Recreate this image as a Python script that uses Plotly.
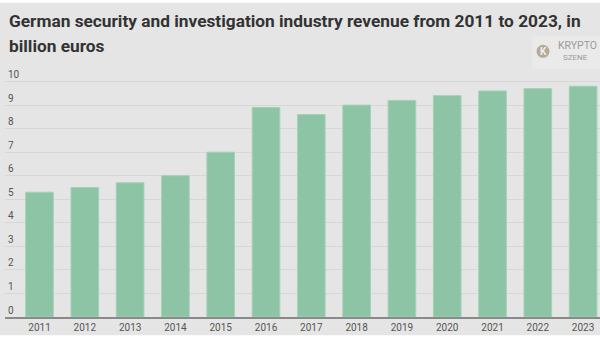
import plotly.graph_objects as go

years = ["2011", "2012", "2013", "2014", "2015", "2016", "2017",
         "2018", "2019", "2020", "2021", "2022", "2023"]
revenue = [5.3, 5.5, 5.7, 6.0, 7.0, 8.9, 8.6, 9.0, 9.2, 9.4, 9.6, 9.7, 9.8]
y_ticks = [0, 1, 2, 3, 4, 5, 6, 7, 8, 9, 10]

title_line1 = "German security and investigation industry revenue from 2011 to 2023, in"
title_line2 = "billion euros"

W, H = 600, 340
YMAX = 11
L, R, B = 5, 0, 23.3
T = H - B - YMAX * 23.5
pw, ph = W - L - R, H - T - B

def px_x(p):
    return (p - L) / pw

def px_y(p):
    return (H - B - p) / ph

fig = go.Figure(go.Bar(
    x=list(range(len(years))), y=revenue,
    marker=dict(color="#8cc4a5", line=dict(color="#a3d2b7", width=1)),
    width=0.61,
))

title_font = dict(family="Roboto", size=17.3, color="#333")
logo_font = "Roboto"

fig.update_layout(
    width=W, height=H,
    margin=dict(l=L, r=R, t=T, b=B, pad=0),
    paper_bgcolor="#ffffff",
    plot_bgcolor="rgba(0,0,0,0)",
    showlegend=False,
    font=dict(family="Roboto", size=10, color="#555"),
    xaxis=dict(
        range=[-0.762, 12.373],
        tickmode="array", tickvals=list(range(len(years))), ticktext=years,
        showgrid=False, zeroline=False,
        showline=True, linecolor="#8a8a8a", linewidth=1.5,
        tickfont=dict(family="Roboto", size=10, color="#555"),
        ticks="", fixedrange=True,
    ),
    yaxis=dict(
        range=[0, YMAX],
        tickmode="array", tickvals=y_ticks,
        ticklabelposition="inside top",
        showgrid=True, gridcolor="#d7d7d7", gridwidth=1,
        zeroline=False, showline=False,
        tickfont=dict(family="Roboto", size=10, color="#555"),
        ticks="",
    ),
    shapes=[
        dict(type="rect", xref="paper", yref="paper", layer="below",
             x0=px_x(0), x1=px_x(W), y0=px_y(3), y1=px_y(335),
             fillcolor="#e5e5e5", line=dict(width=0)),
        dict(type="rect", xref="paper", yref="paper", layer="below",
             x0=px_x(532), x1=px_x(600), y0=px_y(36), y1=px_y(69),
             fillcolor="#eaeaea", line=dict(width=0)),
        dict(type="circle", xref="paper", yref="paper", layer="above",
             x0=px_x(536.5), x1=px_x(549.5), y0=px_y(45), y1=px_y(58),
             fillcolor="#b6ab98", line=dict(width=0)),
    ],
    annotations=[
        dict(text=f"<b>{title_line1}</b>", xref="paper", yref="paper",
             x=px_x(7), y=px_y(21), xanchor="left", yanchor="middle",
             align="left", showarrow=False, font=title_font),
        dict(text=f"<b>{title_line2}</b>", xref="paper", yref="paper",
             x=px_x(7), y=px_y(46), xanchor="left", yanchor="middle",
             align="left", showarrow=False, font=title_font),
        dict(text="<b>K</b>", xref="paper", yref="paper",
             x=px_x(543), y=px_y(51.5), xanchor="center", yanchor="middle",
             showarrow=False, font=dict(family="Roboto", size=10, color="#eeeeee")),
        dict(text="KRYPTO", xref="paper", yref="paper",
             x=px_x(599), y=px_y(45.5), xanchor="right", yanchor="middle",
             showarrow=False, font=dict(family=logo_font, size=10.5, color="#9a9a9a")),
        dict(text="SZENE", xref="paper", yref="paper",
             x=px_x(561), y=px_y(58), xanchor="left", yanchor="middle",
             showarrow=False, font=dict(family=logo_font, size=8, color="#9a9a9a")),
    ],
)

fig.write_html("out.html")
